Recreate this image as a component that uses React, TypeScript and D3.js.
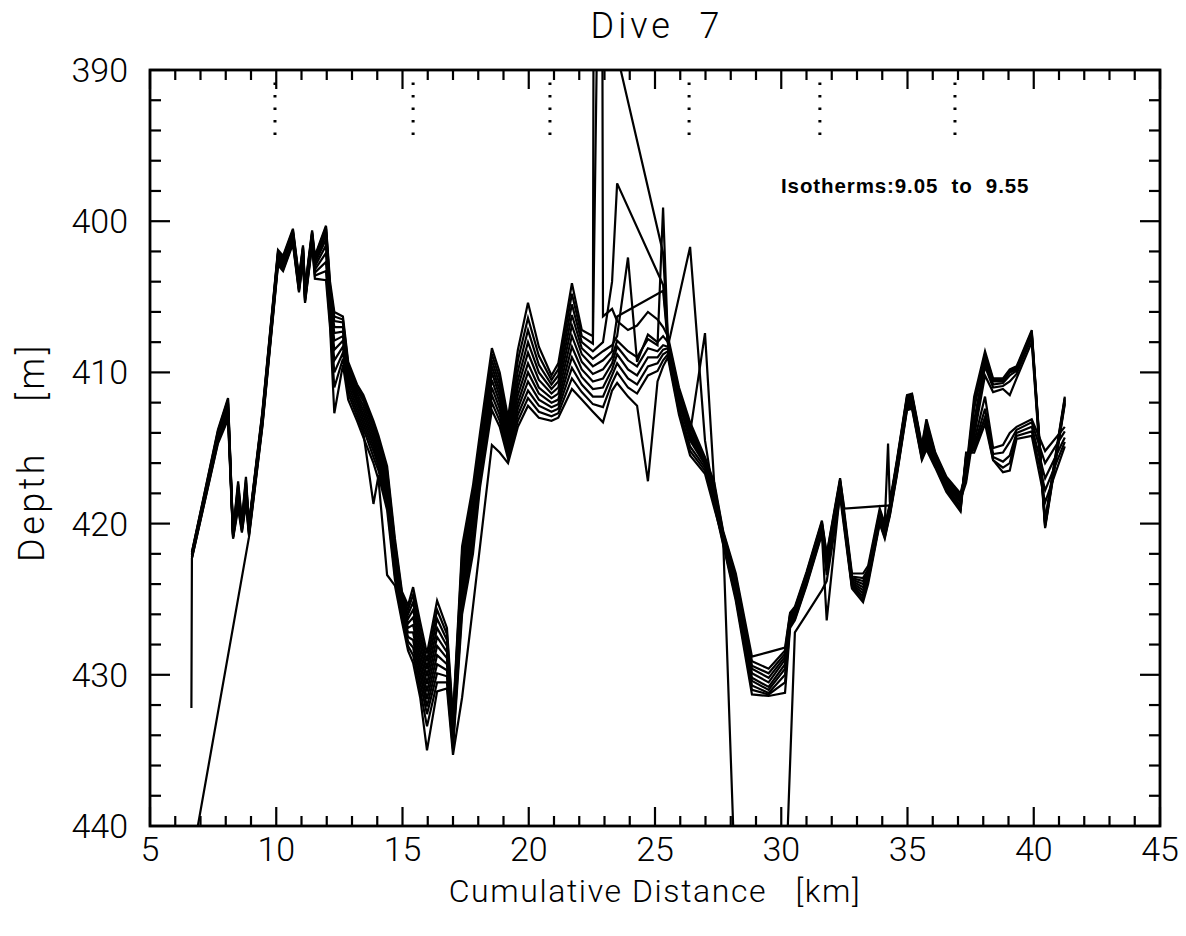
import React from "react";
import * as d3 from "d3";

// Along-track stations of the dive (cumulative distance, km)
const distanceKm: number[] = [
  6.64, 6.66, 7.69, 8.09, 8.29, 8.49, 8.64, 8.80, 8.92, 9.45,
  10.07, 10.27, 10.66, 10.90, 11.06, 11.14, 11.42, 11.53, 11.97, 12.13,
  12.30, 12.64, 12.85, 13.20, 13.45, 13.85, 14.05, 14.39, 14.70, 14.98,
  15.22, 15.42, 15.70, 15.97, 16.37, 16.76, 17.00, 17.36, 17.79, 18.07,
  18.54, 18.85, 19.18, 19.57, 19.97, 20.40, 20.90, 21.17, 21.71, 22.10,
  22.54, 22.74, 22.94, 23.30, 23.50, 23.93, 24.29, 24.72, 25.10, 25.32,
  25.51, 25.95, 26.39, 26.98, 27.35, 27.70, 28.20, 28.84, 29.50, 30.15,
  30.35, 30.54, 31.00, 31.61, 31.80, 32.33, 32.50, 32.80, 33.24, 33.44,
  33.90, 34.10, 34.23, 34.30, 34.58, 34.98, 35.18, 35.57, 35.75, 36.10,
  36.54, 37.10, 37.32, 37.64, 38.07, 38.39, 38.78, 39.05, 39.32, 39.92,
  40.45, 41.23,
];

// Depth (m) of each isotherm at the stations above; null = isotherm not found
const iso955: (number | null)[] = [
  null, 421.9, 413.8, 411.7, 420.5, 417.2, 419.8, 416.9, 420.0, 412.6,
  401.9, 402.3, 400.5, 403.7, 401.6, 404.4, 400.6, 402.3, 400.3, 404.0,
  406.0, 406.3, 409.3, 410.8, 411.5, 413.2, 414.2, 416.2, 421.0, 424.5,
  425.4, 424.2, 426.5, 428.6, 425.1, 426.9, 432.8, 421.5, 417.5, 414.0,
  408.4, 410.0, 413.0, 408.5, 405.4, 408.3, 410.2, 409.4, 404.1, 407.2,
  407.6, 250.0, 406.3, 405.8, 406.6, 407.2, 406.9, 406.0, 406.5, 407.0,
  407.6, 411.0, 413.3, 415.6, 417.3, 420.5, 423.3, 428.8, 428.5, 428.2,
  425.9, 425.5, 423.2, 419.8, 422.0, 417.0, null, 423.3, 423.3, 422.8,
  419.0, 420.0, 414.7, 418.6, 415.8, 411.5, 411.4, 414.8, 413.1, 415.3,
  416.9, 418.0, 416.5, 411.6, 408.6, 410.4, 410.4, 409.8, 409.6, 407.2,
  419.8, 411.6,
];
const iso950: (number | null)[] = [
  null, 421.9, 413.9, 411.8, 420.6, 417.4, 419.9, 417.1, 420.1, 412.7,
  402.0, 402.4, 400.6, 403.8, 401.7, 404.5, 400.7, 402.4, 400.4, 404.3,
  406.3, 406.5, 409.5, 411.0, 411.7, 413.4, 414.4, 416.5, 421.3, 424.7,
  425.7, 424.7, 427.0, 429.1, 425.7, 427.3, 433.0, 422.0, 418.0, 414.4,
  408.8, 410.4, 413.3, 409.2, 406.4, 408.9, 410.5, 409.8, 404.8, 407.6,
  408.1, 383.5, null, null, null, null, null, null, null, 402.1,
  407.8, 411.2, 413.6, 415.7, 417.5, 420.6, 423.5, 429.1, 429.6, 428.4,
  426.0, 425.6, 423.3, 419.9, 422.1, 417.1, 419.0, null, null, null,
  null, null, null, 418.8, 415.9, 411.6, 411.5, 414.9, 413.3, 415.4,
  417.0, 418.1, 416.7, 412.0, 408.8, 410.5, 410.5, 409.9, 409.7, 407.3,
  419.9, 411.7,
];
const iso945: (number | null)[] = [
  null, 422.0, 414.0, 412.0, 420.6, 417.6, 420.0, 417.3, 420.1, 412.8,
  402.1, 402.5, 400.7, 403.9, 401.8, 404.6, 400.8, 402.5, 400.5, 404.6,
  406.6, 406.7, 409.7, 411.2, 411.9, 413.7, 414.7, 416.8, 421.6, 424.9,
  426.0, 425.2, 427.5, 429.6, 426.3, 427.7, 433.2, 422.5, 418.5, 414.8,
  409.2, 410.8, 413.6, 409.9, 407.2, 409.5, 410.8, 410.2, 405.5, 408.0,
  408.6, null, 408.0, 404.0, 397.5, null, null, null, null, 404.2,
  407.9, 411.4, 413.9, 415.8, 417.7, 420.7, 423.7, 429.4, 429.9, 428.6,
  426.1, 425.7, 423.4, 420.0, 422.3, 417.2, null, 423.5, 423.6, 423.0,
  419.2, 420.2, 419.2, 418.7, 416.0, 411.7, 411.6, 415.0, 413.5, 415.5,
  417.1, 418.2, 416.9, 412.4, 409.0, 410.6, 410.6, 410.0, 409.8, 407.4,
  420.0, 411.8,
];
const iso940: (number | null)[] = [
  null, 422.0, 414.1, 412.1, 420.7, 417.8, 420.0, 417.5, 420.2, 412.9,
  402.2, 402.6, 400.8, 404.0, 401.9, 404.7, 400.9, 402.6, 400.7, 404.9,
  407.0, 407.0, 409.9, 411.4, 412.2, 414.0, 415.0, 417.1, 421.9, 425.1,
  426.3, 425.7, 428.0, 430.1, 426.9, 428.1, 433.4, 423.0, 419.0, 415.2,
  409.6, 411.2, 413.9, 410.5, 408.0, 410.0, 411.1, 410.6, 406.2, 408.4,
  409.1, null, 408.6, 408.2, 407.6, 402.4, 409.3, 407.5, 408.0, 407.6,
  408.0, 411.6, 414.1, 415.9, 417.9, 420.8, 423.9, 429.6, 430.2, 428.8,
  426.2, 425.8, 423.5, 420.1, 422.4, 417.3, null, 423.6, 423.8, 423.2,
  419.3, 420.3, 419.3, 418.8, 416.1, 411.8, 411.7, 415.1, 413.7, 415.6,
  417.2, 418.3, 417.1, 413.2, 409.3, 410.8, 410.7, 410.2, 409.9, 407.5,
  420.1, 411.9,
];
const iso935: (number | null)[] = [
  null, 422.1, 414.2, 412.3, 420.7, 418.0, 420.1, 417.7, 420.3, 413.0,
  402.3, 402.7, 400.9, 404.1, 402.0, 404.8, 401.0, 402.7, 400.9, 405.2,
  407.4, 407.3, 410.1, 411.6, 412.5, 414.3, 415.3, 417.4, 422.2, 425.3,
  426.6, 426.2, 428.5, 430.6, 427.5, 428.5, 433.6, 423.5, 419.5, 415.6,
  410.0, 411.6, 414.2, 411.0, 408.7, 410.5, 411.4, 411.0, 406.9, 408.8,
  409.6, null, 409.2, 408.6, 406.3, null, null, null, null, 404.6,
  408.1, 411.8, 414.3, 416.0, 418.1, 420.9, 424.1, 429.9, 430.5, 429.0,
  426.3, 425.9, 423.6, 420.2, 422.5, 417.4, null, 423.7, 424.0, 423.3,
  419.4, 420.4, 419.4, 418.9, 416.2, 411.9, 411.8, 415.2, 413.9, 415.7,
  417.3, 418.4, 417.3, 413.8, 409.6, 411.0, 410.9, 410.6, 410.1, 407.7,
  420.2, 412.0,
];
const iso930: (number | null)[] = [
  null, 422.1, 414.3, 412.4, 420.8, 418.2, 420.2, 417.9, 420.4, 413.1,
  402.4, 402.8, 401.0, 404.2, 402.1, 404.9, 401.1, 402.8, 401.2, 405.5,
  407.9, 407.6, 410.3, 411.8, 412.8, 414.6, 415.6, 417.7, 422.5, 425.5,
  426.9, 426.7, 429.0, 431.1, 428.1, 428.9, 433.8, 424.0, 420.0, 416.0,
  410.5, 412.0, 414.5, 411.5, 409.4, 411.0, 411.7, 411.4, 407.6, 409.3,
  410.1, null, 409.8, 409.0, 407.9, 408.6, 409.0, 407.8, 408.2, 399.1,
  407.9, 412.0, 414.5, 416.1, 418.3, 421.0, 424.3, 430.2, 430.8, 429.3,
  426.4, 426.0, 423.7, 420.3, 422.7, 417.5, null, 423.8, 424.2, 423.4,
  419.5, 420.5, 419.5, 419.0, 416.3, 412.0, 411.9, 415.3, 414.1, 415.8,
  417.4, 418.5, 416.5, 414.2, 410.2, 411.3, 411.1, 411.5, 410.4, 408.0,
  420.3, 412.1,
];
const iso925: (number | null)[] = [
  null, 422.2, 414.4, 412.6, 420.8, 418.4, 420.3, 418.1, 420.5, 413.2,
  402.5, 402.9, 401.1, 404.3, 402.2, 405.0, 401.2, 403.0, 401.6, 405.8,
  408.5, 407.9, 410.5, 412.0, 413.1, 414.9, 415.9, 418.0, 422.8, 425.7,
  427.2, 427.2, 429.5, 431.6, 428.7, 429.3, 434.0, 424.5, 420.5, 416.4,
  411.0, 412.4, 414.8, 412.0, 410.0, 411.4, 412.0, 411.8, 408.3, 409.8,
  410.6, null, 410.4, 409.4, 408.3, 409.2, 409.6, 408.4, 408.6, 408.2,
  408.3, null, 401.7, 414.5, 418.4, 421.1, 424.5, 430.4, 431.0, 429.6,
  426.5, 426.1, 423.8, 420.4, 422.9, 417.6, null, 423.9, 424.4, 423.5,
  419.6, 420.6, 419.6, 419.1, 416.4, 412.1, 412.0, 415.4, 414.3, 415.9,
  417.5, 418.6, 416.0, 414.6, 411.6, 415.0, 414.8, 414.0, 413.6, 413.1,
  415.2, 413.6,
];
const iso920: (number | null)[] = [
  null, 422.2, 414.5, 412.7, 420.9, 418.6, 420.4, 418.3, 420.6, 413.3,
  402.6, 403.0, 401.2, 404.4, 402.3, 405.1, 401.3, 403.2, 402.1, 406.1,
  409.2, 408.3, 410.8, 412.3, 413.4, 415.2, 416.2, 418.3, 423.1, 425.9,
  427.5, 427.7, 430.0, 432.1, 429.3, 429.7, 434.3, 425.0, 421.0, 416.8,
  411.5, 412.8, 415.1, 412.4, 410.6, 411.8, 412.3, 412.1, 409.0, 410.3,
  411.1, null, 411.0, 409.8, 408.8, 409.8, 410.2, 409.0, 409.0, 408.5,
  408.4, 412.2, 414.0, 407.4, 417.5, 421.2, 424.7, 430.7, 431.2, 430.0,
  426.6, 426.2, 423.9, 420.5, 423.1, 417.7, null, 424.0, 424.6, 423.6,
  419.7, 420.7, 419.7, 419.2, 416.5, 412.2, 412.1, 415.5, 414.5, 416.0,
  417.6, 418.8, 415.7, 414.9, 412.4, 415.4, 415.3, 414.6, 413.8, 413.3,
  416.0, 413.9,
];
const iso915: (number | null)[] = [
  null, 422.3, 414.6, 412.9, 420.9, 418.8, 420.5, 418.5, 420.7, 413.4,
  402.7, 403.1, 401.3, 404.5, 402.4, 405.2, 401.4, 403.4, 402.7, 406.4,
  410.0, 408.7, 411.1, 412.6, 413.7, 415.6, 416.5, 418.7, 423.4, 426.1,
  427.8, 428.2, 430.5, 432.6, 429.9, 430.1, 434.6, 425.5, 421.5, 417.2,
  412.0, 413.2, 415.4, 412.8, 411.2, 412.2, 412.6, 412.4, 409.7, 410.8,
  411.6, null, 411.6, 410.2, 409.4, 410.4, 410.8, 409.6, 409.4, 408.8,
  408.6, 412.4, 414.9, 416.3, 418.6, 421.3, 424.9, 431.0, 431.3, 430.5,
  426.7, 426.3, 424.0, 420.6, 423.4, 417.8, null, 424.1, 424.8, 423.7,
  419.8, 420.8, 419.8, 419.3, 416.6, 412.3, 412.2, 415.6, 414.7, 416.1,
  417.7, 419.0, 415.5, 415.1, 413.0, 415.6, 415.9, 415.5, 414.0, 413.6,
  417.0, 414.3,
];
const iso910: (number | null)[] = [
  432.2, 422.3, 414.7, 413.1, 421.0, 419.0, 420.6, 418.7, 420.8, 413.5,
  402.8, 403.2, 401.4, 404.6, 402.5, 405.3, 401.5, 403.6, 403.3, 406.7,
  411.0, 409.1, 411.4, 412.9, 414.0, 418.7, 416.8, 419.1, 423.7, 426.3,
  428.1, 428.7, 431.0, 433.4, 430.5, 430.5, 434.9, 426.0, 422.0, 417.6,
  412.5, 413.6, 415.7, 413.2, 411.7, 412.6, 412.9, 412.7, 410.4, 411.3,
  412.1, null, 412.3, 410.7, 410.0, 411.0, 411.4, 410.2, 409.9, 409.2,
  408.8, 412.6, 415.2, 416.5, 418.8, 421.4, 425.1, 431.3, 431.4, 431.2,
  426.9, 426.4, 424.1, 420.7, 426.4, 417.9, null, 424.2, 425.0, 423.8,
  419.9, 420.9, 419.9, 419.4, 416.7, 412.4, 412.3, 415.7, 414.9, 416.2,
  417.8, 419.1, 415.3, 415.3, 413.4, 415.8, 416.3, 416.0, 414.2, 413.9,
  417.8, 414.6,
];
const iso905: (number | null)[] = [
  442.4, null, null, null, null, null, null, null, 420.9, 413.6,
  402.9, 403.3, 401.5, 404.7, 402.6, 405.4, 401.6, 403.8, 403.9, 407.0,
  412.7, 409.5, 411.8, 413.2, 414.3, 416.0, 417.1, 423.4, 424.1, 426.5,
  428.4, 429.2, 431.5, 435.0, 431.1, 430.9, 435.3, 431.5, 425.5, 421.5,
  414.8, 415.3, 416.0, 413.6, 412.2, 413.0, 413.2, 413.0, 411.1, 411.8,
  412.6, null, 413.3, 411.2, 410.7, 411.6, 412.2, 417.2, 410.6, 409.6,
  409.0, 412.8, 415.5, 416.7, 419.0, 421.1, 445.0, null, null, 445.0,
  null, 427.2, 426.0, 424.4, 423.8, 418.2, null, 424.3, 425.2, 424.0,
  420.0, 421.0, 420.0, 419.5, 416.8, 412.5, 412.4, 415.8, 415.1, 416.3,
  417.9, 419.2, 415.6, 415.0, 413.0, 415.8, 416.6, 416.5, 414.4, 414.2,
  418.6, 414.9,
];

const isotherms = [
  { temp: 9.55, depths: iso955 },
  { temp: 9.5, depths: iso950 },
  { temp: 9.45, depths: iso945 },
  { temp: 9.4, depths: iso940 },
  { temp: 9.35, depths: iso935 },
  { temp: 9.3, depths: iso930 },
  { temp: 9.25, depths: iso925 },
  { temp: 9.2, depths: iso920 },
  { temp: 9.15, depths: iso915 },
  { temp: 9.1, depths: iso910 },
  { temp: 9.05, depths: iso905 },
];

// Segment markers along the top of the section (km)
const segmentMarks: number[] = [9.95, 15.42, 20.84, 26.35, 31.53, 36.88];

const xTickLabels: number[] = [5, 10, 15, 20, 25, 30, 35, 40, 45];
const yTickLabels: number[] = [390, 400, 410, 420, 430, 440];

const W = 1186;
const H = 936;
const PLOT = { left: 150, right: 1160, top: 70, bottom: 826 };
const axisFont = "Roboto, 'DejaVu Sans', sans-serif";

export default function App() {
  const x = d3.scaleLinear().domain([5, 45]).range([PLOT.left, PLOT.right]);
  const y = d3.scaleLinear().domain([390, 440]).range([PLOT.top, PLOT.bottom]);

  const line = d3
    .line<[number, number]>()
    .x((d) => x(d[0]))
    .y((d) => y(d[1]));

  const paths = isotherms.map((iso) => {
    const pts: [number, number][] = [];
    iso.depths.forEach((v, i) => {
      if (v !== null) pts.push([distanceKm[i], v]);
    });
    return { temp: iso.temp, d: line(pts) || "" };
  });

  const xMinor = d3.range(5, 46, 1);
  const yMinor = d3.range(390, 441, 2);
  const isMajorX = (v: number) => v % 5 === 0;
  const isMajorY = (v: number) => v % 10 === 0;

  return (
    <svg
      width={W}
      height={H}
      style={{ position: "absolute", left: 0, top: 0, background: "#fff" }}
    >
      <defs>
        <clipPath id="plot-clip">
          <rect
            x={PLOT.left}
            y={PLOT.top}
            width={PLOT.right - PLOT.left}
            height={PLOT.bottom - PLOT.top}
          />
        </clipPath>
      </defs>

      {/* isotherm depth traces */}
      <g clipPath="url(#plot-clip)" fill="none" stroke="#000" strokeWidth={2.2} strokeLinejoin="miter">
        {paths.map((p) => (
          <path key={p.temp} d={p.d} />
        ))}
      </g>

      {/* segment markers */}
      <g stroke="#000" strokeWidth={3} strokeDasharray="2.5 10" strokeLinecap="butt">
        {segmentMarks.map((m) => (
          <line key={m} x1={x(m)} x2={x(m)} y1={y(394.3)} y2={y(390.8)} />
        ))}
      </g>

      {/* frame */}
      <rect
        x={PLOT.left}
        y={PLOT.top}
        width={PLOT.right - PLOT.left}
        height={PLOT.bottom - PLOT.top}
        fill="none"
        stroke="#000"
        strokeWidth={2.8}
      />

      {/* ticks */}
      <g stroke="#000" strokeWidth={2.2}>
        {xMinor.map((v) => {
          const len = isMajorX(v) ? 19 : 10;
          return (
            <g key={"x" + v}>
              <line x1={x(v)} x2={x(v)} y1={PLOT.bottom} y2={PLOT.bottom - len} />
              <line x1={x(v)} x2={x(v)} y1={PLOT.top} y2={PLOT.top + len} />
            </g>
          );
        })}
        {yMinor.map((v) => {
          const len = isMajorY(v) ? 20 : 11;
          return (
            <g key={"y" + v}>
              <line x1={PLOT.left} x2={PLOT.left + len} y1={y(v)} y2={y(v)} />
              <line x1={PLOT.right} x2={PLOT.right - len} y1={y(v)} y2={y(v)} />
            </g>
          );
        })}
      </g>

      {/* tick labels */}
      <g fontFamily={axisFont} fontWeight={300} fontSize={34} fill="#000">
        {xTickLabels.map((v) => (
          <text key={"xl" + v} x={x(v)} y={861} textAnchor="middle">
            {v}
          </text>
        ))}
        {yTickLabels.map((v) => (
          <text key={"yl" + v} x={128} y={y(v) + 12} textAnchor="end">
            {v}
          </text>
        ))}
      </g>

      {/* titles */}
      <text
        x={657}
        y={38}
        textAnchor="middle"
        fontFamily={axisFont}
        fontWeight={300}
        fontSize={36}
        letterSpacing={4}
        style={{ whiteSpace: "pre" }}
      >
        {"Dive  7"}
      </text>
      <text
        x={655}
        y={902}
        textAnchor="middle"
        fontFamily={axisFont}
        fontWeight={300}
        fontSize={32}
        letterSpacing={1.6}
        style={{ whiteSpace: "pre" }}
      >
        {"Cumulative Distance   [km]"}
      </text>
      <text
        transform={`translate(44, ${452}) rotate(-90)`}
        textAnchor="middle"
        fontFamily={axisFont}
        fontWeight={300}
        fontSize={36}
        letterSpacing={3.5}
        style={{ whiteSpace: "pre" }}
      >
        {"Depth    [m]"}
      </text>
      <text
        x={781}
        y={193}
        fontFamily="'Liberation Sans', Arial, sans-serif"
        fontWeight="bold"
        fontSize={20.5}
        letterSpacing={0.9}
        style={{ whiteSpace: "pre" }}
      >
        {"Isotherms:9.05  to  9.55"}
      </text>
    </svg>
  );
}
